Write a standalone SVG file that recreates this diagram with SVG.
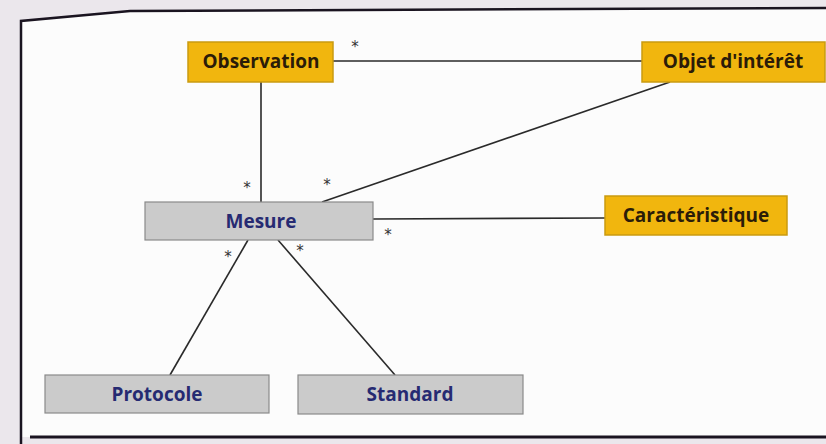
<svg xmlns="http://www.w3.org/2000/svg" width="826" height="444" viewBox="0 0 826 444">
<style>
.y{fill:#f1b60e;stroke:#c99a10;stroke-width:1.5}
.g{fill:#cbcbcb;stroke:#8a8a8a;stroke-width:1.2}
.ty{font-family:"Open Sans","Noto Sans",sans-serif;font-weight:bold;font-size:19px;fill:#2b1c08;text-anchor:middle}
.tg{font-family:"Open Sans","Noto Sans",sans-serif;font-weight:bold;font-size:19px;fill:#262a72;text-anchor:middle}
.c line{stroke:#2a2a2a;stroke-width:1.6}
.s{font-family:"DejaVu Sans",sans-serif;font-size:15px;fill:#333;text-anchor:middle}
</style>
<rect width="826" height="444" fill="#ebe7ec"/>
<path d="M21,21 L130,11 L826,8 L826,437 L21,437 Z" fill="#fcfcfc"/>
<path d="M21,444 L21,21 L130,11 L826,8" fill="none" stroke="#1a1420" stroke-width="2.5"/>
<line x1="30" y1="437" x2="826" y2="437" stroke="#1a1420" stroke-width="3"/>
<g class="c" id="connectors">
<line x1="333" y1="61" x2="642" y2="61"/>
<line x1="261" y1="82" x2="261" y2="202"/>
<line x1="670" y1="82" x2="322" y2="202"/>
<line x1="373" y1="219" x2="605" y2="218"/>
<line x1="248" y1="240" x2="170" y2="375"/>
<line x1="278" y1="240" x2="395" y2="375"/>
<text class="s" x="355" y="52">*</text>
<text class="s" x="247" y="193">*</text>
<text class="s" x="327" y="190">*</text>
<text class="s" x="388" y="240">*</text>
<text class="s" x="228" y="262">*</text>
<text class="s" x="300" y="256">*</text>
</g>
<g id="observation"><rect class="y" x="188" y="42" width="145" height="40"/><text class="ty" x="261" y="68">Observation</text></g>
<g id="objet"><rect class="y" x="642" y="42" width="183" height="40"/><text class="ty" x="733" y="68">Objet d'intérêt</text></g>
<g id="mesure"><rect class="g" x="145" y="202" width="228" height="38"/><text class="tg" x="261" y="228">Mesure</text></g>
<g id="caracteristique"><rect class="y" x="605" y="196" width="182" height="39"/><text class="ty" x="696" y="222">Caractéristique</text></g>
<g id="protocole"><rect class="g" x="45" y="375" width="224" height="38"/><text class="tg" x="157" y="401">Protocole</text></g>
<g id="standard"><rect class="g" x="298" y="375" width="225" height="39"/><text class="tg" x="410" y="401">Standard</text></g>
</svg>
